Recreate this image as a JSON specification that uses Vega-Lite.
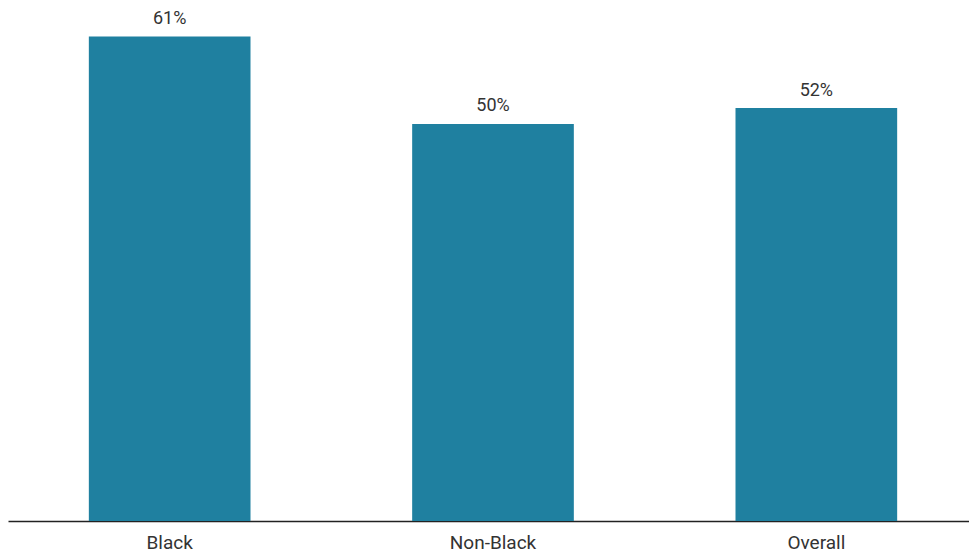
{
  "$schema": "https://vega.github.io/schema/vega-lite/v6.json",
  "width": 970,
  "height": 521,
  "padding": {"left": 8, "top": 0, "right": 0, "bottom": 0},
  "autosize": {"type": "pad"},
  "background": "white",
  "config": {
    "view": {"stroke": null},
    "font": "Roboto"
  },
  "data": {
    "values": [
      {"group": "Black", "share": 0.61},
      {"group": "Non-Black", "share": 0.50},
      {"group": "Overall", "share": 0.52}
    ]
  },
  "encoding": {
    "x": {
      "field": "group",
      "type": "nominal",
      "sort": null,
      "title": null,
      "scale": {"paddingInner": 0.5, "paddingOuter": 0.25},
      "axis": {
        "labelAngle": 0,
        "ticks": false,
        "labelPadding": 12,
        "labelFontSize": 19,
        "labelColor": "#333333",
        "labelFont": "Roboto",
        "domainColor": "#222222",
        "domainWidth": 1.5
      }
    },
    "y": {
      "field": "share",
      "type": "quantitative",
      "title": null,
      "axis": null,
      "scale": {"domain": [0, 0.656], "nice": false}
    }
  },
  "layer": [
    {"mark": {"type": "bar", "color": "#1f80a0"}},
    {
      "mark": {
        "type": "text",
        "baseline": "alphabetic",
        "dy": -12.5,
        "fontSize": 18,
        "font": "Roboto",
        "color": "#333333"
      },
      "encoding": {
        "text": {"field": "share", "type": "quantitative", "format": ".0%"}
      }
    }
  ]
}
